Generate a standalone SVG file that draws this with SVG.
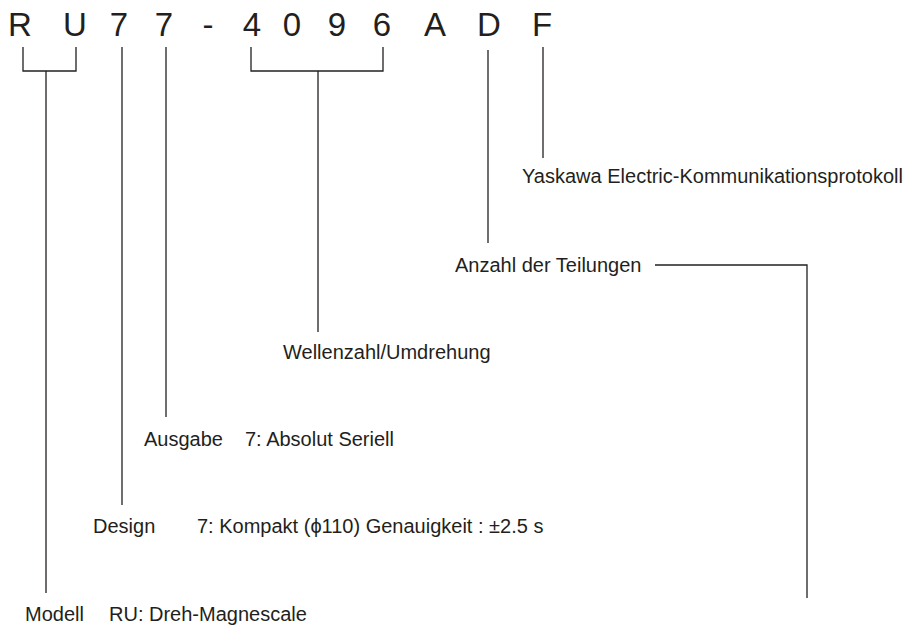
<svg xmlns="http://www.w3.org/2000/svg" width="916" height="626" viewBox="0 0 916 626">
<style>
.big{font-family:"Liberation Sans",Arial,sans-serif;font-size:33px;fill:#231f20;text-anchor:middle}
.lbl{font-family:"Liberation Sans",Arial,sans-serif;font-size:20px;fill:#231f20}
.ln{fill:none;stroke:#231f20;stroke-width:1.3}
</style>
<rect width="916" height="626" fill="#fff"/>
<g id="code">
<text class="big" x="20" y="36">R</text>
<text class="big" x="75" y="36">U</text>
<text class="big" x="119" y="36">7</text>
<text class="big" x="164" y="36">7</text>
<text class="big" x="208" y="36">-</text>
<text class="big" x="252" y="36">4</text>
<text class="big" x="292" y="36">0</text>
<text class="big" x="337" y="36">9</text>
<text class="big" x="382" y="36">6</text>
<text class="big" x="435" y="36">A</text>
<text class="big" x="489" y="36">D</text>
<text class="big" x="542" y="36">F</text>
</g>
<g id="connectors">
<path class="ln" d="M23,47 V71 H76 V47 M46,71 V593"/>
<path class="ln" d="M122,47 V505"/>
<path class="ln" d="M166,47 V417"/>
<path class="ln" d="M251,47 V71 H383 V47 M318,71 V332"/>
<path class="ln" d="M488,50 V243"/>
<path class="ln" d="M543,47 V158"/>
<path class="ln" d="M655,265 H807 V598"/>
</g>
<g id="protokoll"><text class="lbl" x="522" y="183">Yaskawa Electric-Kommunikationsprotokoll</text></g>
<g id="teilungen"><text class="lbl" x="455" y="272">Anzahl der Teilungen</text></g>
<g id="wellenzahl"><text class="lbl" x="283" y="359">Wellenzahl/Umdrehung</text></g>
<g id="ausgabe"><text class="lbl" x="144" y="446">Ausgabe<tspan x="245">7: Absolut Seriell</tspan></text></g>
<g id="design"><text class="lbl" x="93" y="533">Design<tspan x="197">7: Kompakt (ϕ110) Genauigkeit : ±2.5 s</tspan></text></g>
<g id="modell"><text class="lbl" x="25" y="621">Modell<tspan x="109">RU: Dreh-Magnescale</tspan></text></g>
</svg>
